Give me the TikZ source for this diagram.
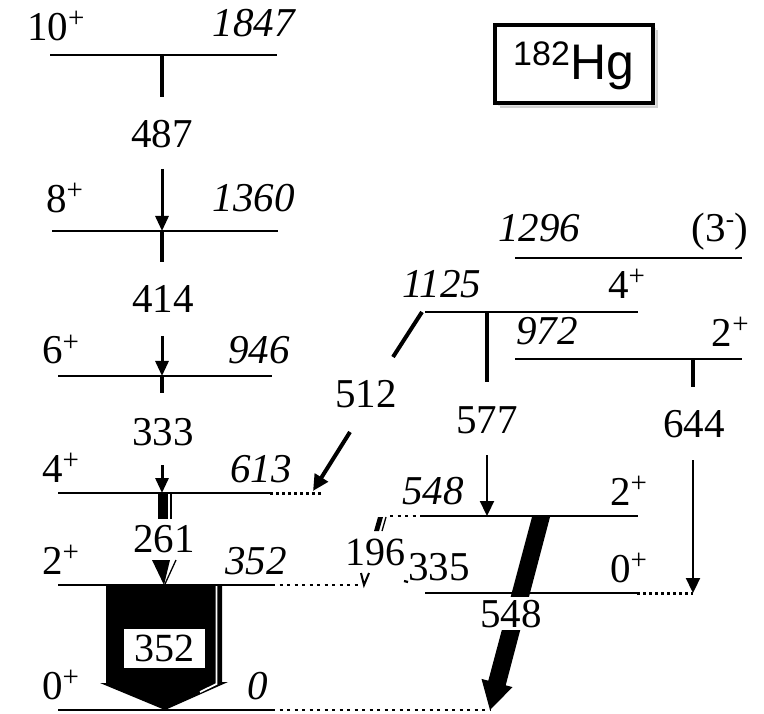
\documentclass[tikz,border=0pt]{standalone}
\usepackage{fontspec}
\setmainfont{Liberation Serif}
\newfontfamily\hgfont{Liberation Sans}
\usetikzlibrary{arrows.meta}
\newcommand\sps[1]{\raisebox{13pt}{\fontsize{29}{29}\selectfont #1}}
\begin{document}
\begin{tikzpicture}[x=1pt,y=-1pt,
  lbl/.style={inner sep=0pt, font=\fontsize{41}{41}\selectfont},
  elbl/.style={inner sep=0pt, font=\fontsize{41}{41}\selectfont\itshape},
  lev/.style={line width=2.5pt},
  levthin/.style={line width=2pt},
  tickln/.style={line width=3.5pt},
  gam/.style={line width=3pt, -{Triangle[width=13pt,length=15pt]}},
  gamthin/.style={line width=2.3pt, -{Triangle[width=14pt,length=15pt]}},
  dotsthick/.style={line width=3pt, dash pattern=on 3pt off 3pt},
  dotsthin/.style={line width=1.5pt, dash pattern=on 3pt off 4.5pt}]
\useasboundingbox (0,0) rectangle (764,714);

% ---------- level end points ----------
\coordinate (a10) at (50,55);   \coordinate (b10) at (277,55);
\coordinate (a8) at (52,231);   \coordinate (b8) at (278,231);
\coordinate (a6) at (58,376);   \coordinate (b6) at (272,376);
\coordinate (a4) at (58,493);   \coordinate (b4) at (270,493);  \coordinate (c4) at (322,493);
\coordinate (a2) at (58,585);   \coordinate (b2) at (272,585);  \coordinate (c2) at (362,585);
\coordinate (a0) at (58,710);   \coordinate (b0) at (272,710);  \coordinate (c0) at (490,710);
\coordinate (aP) at (515,258);  \coordinate (bP) at (742,258);
\coordinate (aQ) at (425,312);  \coordinate (bQ) at (638,312);
\coordinate (aR) at (515,359);  \coordinate (bR) at (742,359);
\coordinate (aS) at (423,516);  \coordinate (bS) at (638,516);  \coordinate (cS) at (390,516);
\coordinate (aT) at (425,593);  \coordinate (bT) at (637,593);  \coordinate (cT) at (693,593);

% ---------- levels ----------
\draw[lev] (a10) -- (b10);
\draw[lev] (a8) -- (b8);
\draw[levthin] (a6) -- (b6);
\draw[levthin] (a4) -- (b4);
\draw[dotsthick] (b4) -- (c4);
\draw[levthin] (a2) -- (b2);
\draw[dotsthin] (b2) -- (c2);
\draw[levthin] (a0) -- (b0);
\draw[dotsthin] (b0) -- (c0);
\draw[lev] (aP) -- (bP);
\draw[lev] (aQ) -- (bQ);
\draw[lev] (aR) -- (bR);
\draw[levthin] (aS) -- (bS);
\draw[dotsthin] (cS) -- (aS);
\draw[levthin] (aT) -- (bT);
\draw[dotsthick] (bT) -- (cT);

% ---------- level labels ----------
\node[lbl, anchor=base west] (s10) at (27,41) {10\sps{+}};
\node[elbl, anchor=base east] (e10) at (295,37) {1847};
\node[lbl, anchor=base west] (s8) at (46,213) {8\sps{+}};
\node[elbl, anchor=base east] (e8) at (295,212) {1360};
\node[lbl, anchor=base west] (s6) at (42,364) {6\sps{+}};
\node[elbl, anchor=base east] (e6) at (290,364) {946};
\node[lbl, anchor=base west] (s4) at (42,482) {4\sps{+}};
\node[elbl, anchor=base east] (e4) at (292,482) {613};
\node[lbl, anchor=base west] (s2) at (42,574) {2\sps{+}};
\node[elbl, anchor=base east] (e2) at (287,574) {352};
\node[lbl, anchor=base west] (s0) at (42,699) {0\sps{+}};
\node[elbl, anchor=base west] (e0) at (247,699) {0};
\node[elbl, anchor=base west] (eP) at (498,242) {1296};
\node[lbl, anchor=base east] (sP) at (748,242) {(3\raisebox{14pt}{\fontsize{25}{25}\selectfont -})};
\node[elbl, anchor=base west] (eQ) at (402,298) {1125};
\node[lbl, anchor=base west] (sQ) at (608,299) {4\sps{+}};
\node[elbl, anchor=base west] (eR) at (516,345) {972};
\node[lbl, anchor=base east] (sR) at (749,347) {2\sps{+}};
\node[elbl, anchor=base west] (eS) at (402,504) {548};
\node[lbl, anchor=base west] (sS) at (610,505) {2\sps{+}};
\node[lbl, anchor=base west] (sT) at (610,582) {0\sps{+}};

% ---------- 487 ----------
\coordinate (t487a) at (162,55);  \coordinate (t487b) at (162,97);
\coordinate (g487a) at (162,169); \coordinate (g487b) at (162,231);
\draw[tickln] (t487a) -- (t487b);
\node[lbl, anchor=base] (n487) at (162,148) {487};
\draw[gam] (g487a) -- (g487b);
% ---------- 414 ----------
\coordinate (t414a) at (162,231);  \coordinate (t414b) at (162,262);
\coordinate (g414a) at (162,336); \coordinate (g414b) at (162,376);
\draw[tickln] (t414a) -- (t414b);
\node[lbl, anchor=base] (n414) at (163,313) {414};
\draw[gam] (g414a) -- (g414b);
% ---------- 333 ----------
\coordinate (t333a) at (162,376);  \coordinate (t333b) at (162,393);
\coordinate (g333a) at (162,465); \coordinate (g333b) at (162,493);
\draw[tickln] (t333a) -- (t333b);
\node[lbl, anchor=base] (n333) at (163,445) {333};
\draw[gam] (g333a) -- (g333b);
% ---------- 261 ----------
\fill (158,493) rectangle (168,519);
\draw[line width=1.3pt] (171,493) -- (171,519);
\node[lbl, anchor=base] (n261) at (164,552) {261};
\fill (152,560) -- (170,560) -- (164,585) -- cycle;
\draw[line width=1.3pt] (176,560) -- (165,584);
% ---------- 352 ----------
\fill (106,585) -- (222,585) -- (222,682) -- (228,682) -- (165,710) -- (100,683) -- (106,683) -- cycle;
\draw[white, line width=1.8pt] (216.5,586) -- (216.5,684) -- (200,692);
\node[lbl, draw, line width=1pt, fill=white, minimum width=82pt, minimum height=40pt, font=\fontsize{40}{40}\selectfont] (n352) at (164,648) {352};

% ---------- 512 ----------
\coordinate (t512a) at (422,312); \coordinate (t512b) at (393,357);
\coordinate (g512a) at (350,432); \coordinate (g512b) at (313,491);
\draw[line width=4pt] (t512a) -- (t512b);
\node[lbl, anchor=base] (n512) at (366,407) {512};
\draw[line width=4pt, -{Triangle[width=15pt,length=16pt]}] (g512a) -- (g512b);
% ---------- 577 ----------
\coordinate (t577a) at (487,312); \coordinate (t577b) at (487,382);
\coordinate (g577a) at (487,455); \coordinate (g577b) at (487,516);
\draw[tickln] (t577a) -- (t577b);
\node[lbl, anchor=base] (n577) at (487,433) {577};
\draw[gamthin] (g577a) -- (g577b);
% ---------- 644 ----------
\coordinate (t644a) at (693,359); \coordinate (t644b) at (693,387);
\coordinate (g644a) at (693,460); \coordinate (g644b) at (693,593);
\draw[tickln] (t644a) -- (t644b);
\node[lbl, anchor=base] (n644) at (694,437) {644};
\draw[gamthin] (g644a) -- (g644b);
% ---------- 548 (thick) ----------
\fill (532,517) -- (550,517) -- (505.7,685.3) -- (512.5,687.1) -- (490,710) -- (481.5,678.9) -- (488.3,680.7) -- cycle;
\node[lbl, anchor=base, fill=white, inner ysep=3pt, inner xsep=2pt] (n548) at (511,627) {548};
% ---------- 196 ----------
\fill (378,517) -- (383,517) -- (379,531) -- (374,531) -- cycle;
\draw[line width=1.3pt] (386,517) -- (382,531);
\node[lbl, anchor=base west, font=\fontsize{40}{40}\selectfont] (n196) at (345,565) {196};
\draw[line width=2pt] (361,573) -- (364,585) -- (369,573);
% ---------- 335 ----------
\draw[line width=2.2pt] (404,581) -- (408,582);
\node[lbl, anchor=base west] (n335) at (408,580) {335};

% ---------- nucleus box ----------
\fill[black!18] (500,30) rectangle (658,108);
\fill[black!10] (498,28) rectangle (656,106);
\draw[line width=4pt, fill=white] (495,25) rectangle (653,103);
\node[inner sep=0pt, anchor=base west, font=\hgfont\fontsize{34}{34}\selectfont] (iso) at (513,66) {182};
\node[inner sep=0pt, anchor=base west, font=\hgfont\fontsize{50}{50}\selectfont] (hg) at (570,80) {Hg};
\end{tikzpicture}
\end{document}
